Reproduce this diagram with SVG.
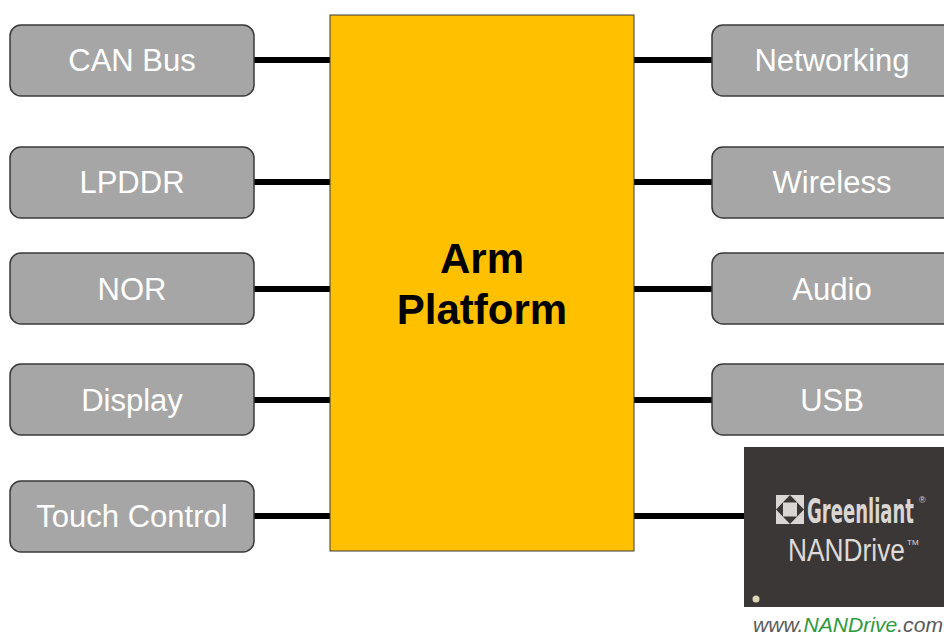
<svg xmlns="http://www.w3.org/2000/svg" width="944" height="635" viewBox="0 0 944 635">
<style>
.box{fill:#a6a6a6;stroke:#3a3a3a;stroke-width:1.5}
.lbl{font-family:"Liberation Sans",Arial,sans-serif;font-size:31px;fill:#ffffff;text-anchor:middle}
.conn{stroke:#000;stroke-width:6;fill:none}
</style>
<rect width="944" height="635" fill="#ffffff"/>
<g id="connectors">
<line class="conn" x1="254" y1="60" x2="331" y2="60"/>
<line class="conn" x1="254" y1="182" x2="331" y2="182"/>
<line class="conn" x1="254" y1="289" x2="331" y2="289"/>
<line class="conn" x1="254" y1="400" x2="331" y2="400"/>
<line class="conn" x1="254" y1="516" x2="331" y2="516"/>
<line class="conn" x1="633" y1="60" x2="712" y2="60"/>
<line class="conn" x1="633" y1="182" x2="712" y2="182"/>
<line class="conn" x1="633" y1="289" x2="712" y2="289"/>
<line class="conn" x1="633" y1="400" x2="712" y2="400"/>
<line class="conn" x1="633" y1="516" x2="745" y2="516"/>
</g>
<g id="arm-platform">
<rect x="330" y="15" width="304" height="536" fill="#ffc000" stroke="#3a3a3a" stroke-width="1"/>
<text x="482" y="273" font-family="'Liberation Sans',Arial,sans-serif" font-size="42" font-weight="bold" text-anchor="middle" fill="#000">Arm</text>
<text x="482" y="324" font-family="'Liberation Sans',Arial,sans-serif" font-size="42" font-weight="bold" text-anchor="middle" fill="#000">Platform</text>
</g>
<g id="can-bus"><rect class="box" x="10" y="25" width="244" height="71" rx="11"/><text class="lbl" x="132" y="71">CAN Bus</text></g>
<g id="lpddr"><rect class="box" x="10" y="147" width="244" height="71" rx="11"/><text class="lbl" x="132" y="193">LPDDR</text></g>
<g id="nor"><rect class="box" x="10" y="253" width="244" height="71" rx="11"/><text class="lbl" x="132" y="300">NOR</text></g>
<g id="display"><rect class="box" x="10" y="364" width="244" height="71" rx="11"/><text class="lbl" x="132" y="411">Display</text></g>
<g id="touch-control"><rect class="box" x="10" y="481" width="244" height="71" rx="11"/><text class="lbl" x="132" y="527">Touch Control</text></g>
<g id="networking"><rect class="box" x="712" y="25" width="244" height="71" rx="11"/><text class="lbl" x="832" y="71">Networking</text></g>
<g id="wireless"><rect class="box" x="712" y="147" width="244" height="71" rx="11"/><text class="lbl" x="832" y="193">Wireless</text></g>
<g id="audio"><rect class="box" x="712" y="253" width="244" height="71" rx="11"/><text class="lbl" x="832" y="300">Audio</text></g>
<g id="usb"><rect class="box" x="712" y="364" width="244" height="71" rx="11"/><text class="lbl" x="832" y="411">USB</text></g>
<g id="nandrive">
<rect x="744" y="447" width="200" height="160" fill="#3c3737"/>
<rect x="776" y="495" width="28" height="29" fill="#d9d6d3"/>
<polygon points="790,495 804,509.5 790,524 776,509.5" fill="#3c3737"/>
<rect x="783" y="502.5" width="14" height="14" fill="#d9d6d3"/>
<text x="807" y="523" font-family="'DejaVu Sans Condensed','Liberation Sans',sans-serif" font-size="33" font-weight="bold" fill="#d9d6d3" textLength="107" lengthAdjust="spacingAndGlyphs">Greenliant</text>
<text x="919" y="503" font-family="'Liberation Sans',Arial,sans-serif" font-size="9" fill="#d9d6d3">®</text>
<text x="788" y="561" font-family="'Liberation Sans',Arial,sans-serif" font-size="31" fill="#dedbd8" textLength="117" lengthAdjust="spacingAndGlyphs">NANDrive</text>
<text x="907" y="545" font-family="'Liberation Sans',Arial,sans-serif" font-size="8" fill="#dedbd8">TM</text>
<circle cx="756" cy="599" r="3.5" fill="#ddd4b8"/>
</g>
<text x="753" y="632" font-family="'Liberation Sans',Arial,sans-serif" font-size="20" font-style="italic" fill="#5a5a5a" textLength="190" lengthAdjust="spacingAndGlyphs">www.<tspan fill="#2e9a3c">NANDrive</tspan>.com</text>
</svg>
